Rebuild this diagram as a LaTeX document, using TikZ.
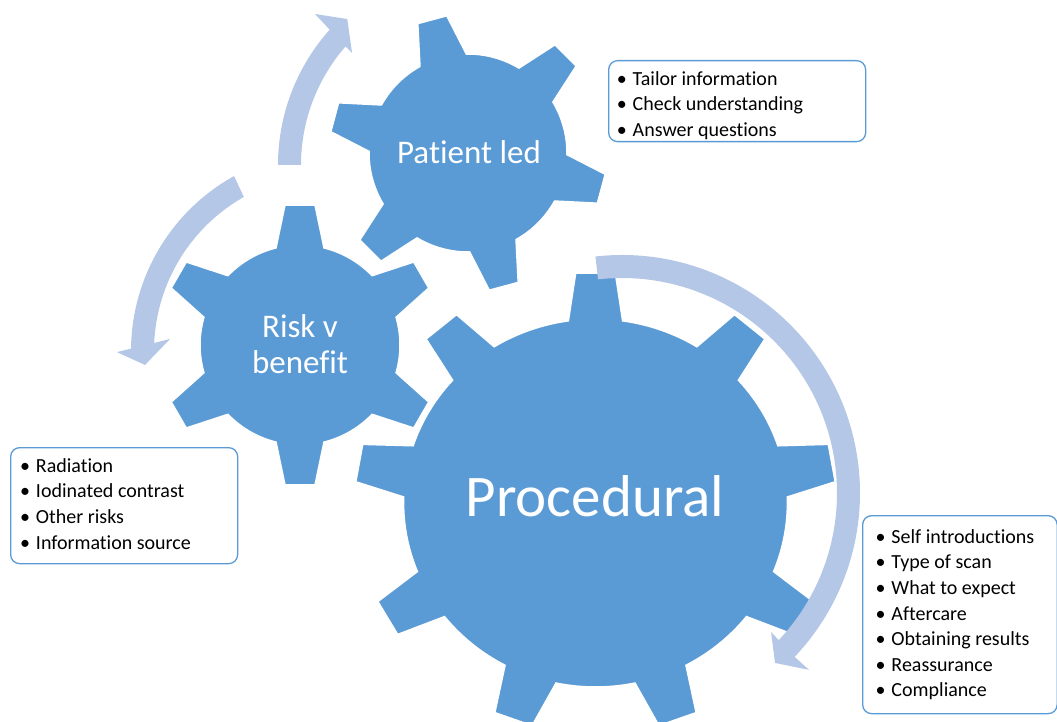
\documentclass[tikz,border=0pt]{standalone}
\usepackage{fontspec}
\setmainfont{Carlito}[Ligatures=NoCommon]
\definecolor{gearblue}{HTML}{5B9BD5}
\definecolor{arrowblue}{HTML}{B4C7E7}
\definecolor{boxline}{HTML}{5B9BD5}

% bullet with a fixed gap to the item text
\newcommand\bul{\makebox[0pt]{•}\hspace{10.8pt}}

% gear outline: #1 options, #2 teeth, #3 first tooth angle,
% #4 root radius, #5 tip distance, #6 root half-width, #7 tip half-width
\newcommand\drawgear[7]{%
  \pgfmathsetmacro\gstep{360/#2}%
  \pgfmathsetmacro\gbr{asin(#6/#4)}%
  \pgfmathsetmacro\gbt{atan(#7/#5)}%
  \pgfmathsetmacro\grt{veclen(#5,#7)}%
  \filldraw[gear,#1] ({#3-\gbr}:#4pt)
    \foreach \k in {1,...,#2}{
      -- ({#3+(\k-1)*\gstep-\gbt}:\grt pt)
      -- ({#3+(\k-1)*\gstep+\gbt}:\grt pt)
      -- ({#3+(\k-1)*\gstep+\gbr}:#4pt)
      arc[start angle={#3+(\k-1)*\gstep+\gbr}, end angle={#3+\k*\gstep-\gbr}, radius=#4pt]
    } -- cycle;%
}

\begin{document}
\begin{tikzpicture}[x=1pt,y=1pt,
  gear/.style={fill=gearblue, draw=white, line width=1.5pt},
  turn/.style={fill=arrowblue},
  gearlabel/.style={text=white, inner sep=0pt},
  infobox/.style={draw=boxline, line width=1.3pt, fill=white, rounded corners=9pt, inner sep=0pt},
  items/.style={inner sep=0pt, align=left, anchor=north west, font=\fontsize{20}{25.6}\selectfont}]
\useasboundingbox (0,0) rectangle (1057,-722);

% gears
\drawgear{shift={(300,-345)}}{6}{90}{100}{140}{24}{15}
\drawgear{shift={(468,-153)}}{6}{105}{99}{138}{24}{15}
\drawgear{shift={(595.5,-503)}, xscale=1.043}{9}{90}{184}{230}{26}{19}

% circular arrows
\begin{scope}[shift={(622,-493)}]
  \fill[turn] (96.4:238pt) arc[start angle=96.4, end angle=-43.5, radius=238pt]
    -- (-43.4:257.4pt) -- (-48:228.7pt) -- (-43:203.8pt)
    -- (-43.2:215pt) arc[start angle=-43.2, end angle=96.4, radius=215pt] -- cycle;
\end{scope}
\begin{scope}[shift={(331,-351)}]
  \fill[turn] (119:200pt) arc[start angle=119, end angle=179.3, radius=200pt]
    -- (180.3:214pt) -- (184.3:186.5pt) -- (175.7:161.4pt)
    -- (177.4:177pt) arc[start angle=177.4, end angle=119.5, radius=177pt] -- cycle;
\end{scope}
\begin{scope}[shift={(481,-165)}]
  \fill[turn] (180:203pt) arc[start angle=180, end angle=138.2, radius=203pt]
    -- (137.7:224.4pt) -- (132.5:198pt) -- (139:170.8pt)
    -- (138.8:180pt) arc[start angle=138.8, end angle=180, radius=180pt] -- cycle;
\end{scope}

% gear labels
\node[gearlabel, anchor=base, font=\fontsize{33}{36}\selectfont] (patient) at (469,-163.3) {Patient led};
\node[gearlabel, anchor=north, align=center, font=\fontsize{33}{36}\selectfont] (risk) at (300,-311.8) {\strut Risk v\\\strut benefit};
\node[gearlabel, anchor=base, font=\fontsize{59}{64}\selectfont] (proc) at (595,-516.7) {Procedural};

% information boxes
\node[infobox, anchor=north west, minimum width=257pt, minimum height=81pt] (boxA) at (608,-60) {};
\node[infobox, anchor=north west, minimum width=227pt, minimum height=116pt] (boxB) at (10,-447) {};
\node[infobox, anchor=north west, minimum width=194.5pt, minimum height=198pt] (boxC) at (862,-515) {};

\node[items] (listA) at (621.7,-67.1) {\strut\bul Tailor information\\\strut\bul Check understanding\\\strut\bul Answer questions};
\node[items] (listB) at (25,-454.1) {\strut\bul Radiation\\\strut\bul Iodinated contrast\\\strut\bul Other risks\\\strut\bul Information source};
\node[items] (listC) at (880.5,-525.1) {\strut\bul Self introductions\\\strut\bul Type of scan\\\strut\bul What to expect\\\strut\bul Aftercare\\\strut\bul Obtaining results\\\strut\bul Reassurance\\\strut\bul Compliance};
\end{tikzpicture}
\end{document}
